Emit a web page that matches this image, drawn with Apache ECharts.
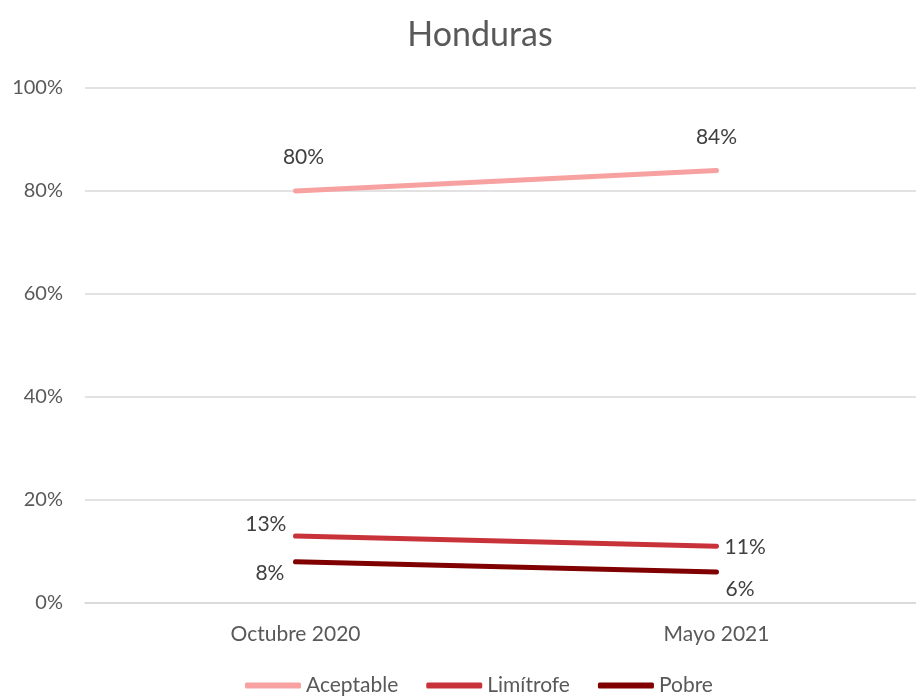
<!DOCTYPE html>
<html>
<head>
<meta charset="utf-8">
<script src="https://cdn.jsdelivr.net/npm/echarts@6/dist/echarts.min.js"></script>
<style>
  html, body { margin: 0; padding: 0; background: #fff; }
  #chart { width: 916px; height: 698px; }
</style>
</head>
<body>
<div id="chart"></div>
<script>
// Food consumption score categories, Honduras
const periods = ['Octubre 2020', 'Mayo 2021'];
const aceptable = [80, 84];
const limitrofe = [13, 11];
const pobre = [8, 6];
const yTicks = [0, 20, 40, 60, 80, 100];

// per-point label placement [position, offset]
const aceptableLabels = [['top', [8, -18]], ['top', [0, -18]]];
const limitrofeLabels = [['left', [-4, -12]], ['right', [3, 1]]];
const pobreLabels = [['left', [-6, 11]], ['right', [4, 17]]];

const FONT = 'Lato, "Open Sans", sans-serif';

function makeData(values, labels) {
  return values.map((v, i) => ({
    value: v,
    label: { position: labels[i][0], offset: labels[i][1] }
  }));
}

function lineSeries(name, values, labels, color) {
  return {
    name: name,
    type: 'line',
    data: makeData(values, labels),
    showSymbol: true,
    symbol: 'circle',
    symbolSize: 0.1,
    lineStyle: { color: color, width: 5, cap: 'round' },
    itemStyle: { color: color },
    label: {
      show: true,
      formatter: p => p.value + '%',
      color: '#404040',
      fontSize: 21,
      fontFamily: FONT,
      distance: 5
    },
    emphasis: { disabled: true },
    animation: false
  };
}

const chart = echarts.init(document.getElementById('chart'));
chart.setOption({
  backgroundColor: '#ffffff',
  title: {
    text: 'Honduras',
    left: 475,
    textAlign: 'center',
    top: 13,
    textStyle: { color: '#595959', fontSize: 34, fontWeight: 'normal', fontFamily: FONT }
  },
  grid: { left: 85, top: 88, width: 842, height: 515, containLabel: false, outerBoundsMode: 'none' },
  legend: {
    bottom: -3,
    left: 240,
    itemWidth: 56,
    itemHeight: 6,
    itemGap: 28,
    icon: 'roundRect',
    textStyle: { color: '#595959', fontSize: 21, fontFamily: FONT },
    data: ['Aceptable', 'Limítrofe', 'Pobre']
  },
  xAxis: {
    type: 'category',
    data: periods,
    boundaryGap: true,
    axisLine: { show: true, lineStyle: { color: '#d9d9d9', width: 1.5 } },
    axisTick: { show: false },
    axisLabel: { color: '#595959', fontSize: 21, fontFamily: FONT, margin: 21 }
  },
  yAxis: {
    type: 'value',
    min: yTicks[0],
    max: yTicks[yTicks.length - 1],
    interval: 20,
    axisLine: { show: false },
    axisTick: { show: false },
    splitLine: { lineStyle: { color: '#d9d9d9', width: 1.5 } },
    axisLabel: { color: '#595959', fontSize: 20, fontFamily: FONT, margin: 22, formatter: v => v + '%' }
  },
  series: [
    lineSeries('Aceptable', aceptable, aceptableLabels, '#F7A1A1'),
    lineSeries('Limítrofe', limitrofe, limitrofeLabels, '#C8333A'),
    lineSeries('Pobre', pobre, pobreLabels, '#800000')
  ]
});
</script>
</body>
</html>
